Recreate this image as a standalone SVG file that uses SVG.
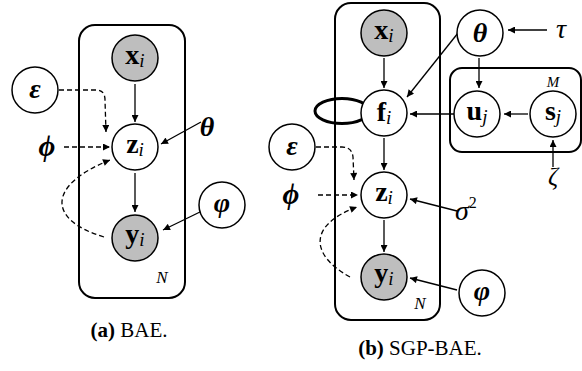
<svg xmlns="http://www.w3.org/2000/svg" width="582" height="371" viewBox="0 0 582 371">
  <defs>
    <marker id="ah" viewBox="0 0 10 10" refX="10" refY="5" markerWidth="8" markerHeight="7" markerUnits="userSpaceOnUse" orient="auto">
      <path d="M0,0 L10,5 L0,10 z" fill="#000"/>
    </marker>
    <style>
      .plate { fill: none; stroke: #000; stroke-width: 2; }
      .node { fill: #fff; stroke: #000; stroke-width: 1.5; }
      .obs { fill: #bebebe; stroke: #000; stroke-width: 1.5; }
      .edge { fill: none; stroke: #000; stroke-width: 1.3; marker-end: url(#ah); }
      .dash { fill: none; stroke: #000; stroke-width: 1.3; stroke-dasharray: 5 3; marker-end: url(#ah); }
      text { font-family: "Liberation Serif", "DejaVu Serif", serif; fill: #000; }
      .lbl { font-size: 28px; text-anchor: middle; }
      .vec { font-weight: bold; }
      .sub { font-style: italic; font-size: 19px; }
      .greek { font-style: italic; font-weight: bold; text-anchor: middle; }
      .plain { font-style: italic; text-anchor: middle; }
      .cap { font-size: 21px; text-anchor: middle; }
    </style>
  </defs>

  <!-- ===== (a) BAE ===== -->
  <g id="plate-a">
    <rect class="plate" x="79" y="25" width="106" height="273" rx="16"/>
    <text class="plain" x="162" y="283" font-size="17">N</text>
  </g>

  <g id="edges-a">
    <line class="edge" x1="135" y1="84" x2="135" y2="122"/>
    <line class="edge" x1="135" y1="173" x2="135" y2="212"/>
    <line class="edge" x1="201" y1="122" x2="161" y2="144"/>
    <line class="edge" x1="202" y1="211" x2="163" y2="230"/>
    <path class="dash" d="M59,90 L96,90 Q105,90 105,100 L106,132"/>
    <line class="dash" x1="64" y1="147" x2="110" y2="147"/>
    <path class="dash" d="M104,237 C47,220 47,185 110,160"/>
  </g>

  <g id="a-x">
    <circle class="obs" cx="135" cy="58" r="23"/>
    <text class="lbl" x="135" y="64"><tspan class="vec">x</tspan><tspan class="sub" dy="3">i</tspan></text>
  </g>
  <g id="a-z">
    <circle class="node" cx="135" cy="147" r="23"/>
    <text class="lbl" x="135" y="153"><tspan class="vec">z</tspan><tspan class="sub" dy="3">i</tspan></text>
  </g>
  <g id="a-y">
    <circle class="obs" cx="135" cy="238" r="23"/>
    <text class="lbl" x="135" y="243"><tspan class="vec">y</tspan><tspan class="sub" dy="3">i</tspan></text>
  </g>
  <g id="a-eps">
    <circle class="node" cx="35" cy="90" r="23"/>
    <text class="greek" x="35" y="98" font-size="28">ε</text>
  </g>
  <g id="a-phi">
    <text class="greek" x="47" y="156" font-size="29">ϕ</text>
  </g>
  <g id="a-theta">
    <text class="greek" x="207" y="136" font-size="28">θ</text>
  </g>
  <g id="a-varphi">
    <circle class="node" cx="222" cy="205" r="23"/>
    <text class="greek" x="222" y="212" font-size="28">φ</text>
  </g>

  <text class="cap" x="129" y="337"><tspan font-weight="bold">(a)</tspan> BAE.</text>

  <!-- ===== (b) SGP-BAE ===== -->
  <g id="plate-b">
    <rect class="plate" x="335" y="3" width="105" height="317" rx="16"/>
    <text class="plain" x="420" y="309" font-size="17">N</text>
  </g>
  <g id="plate-m">
    <rect class="plate" x="450" y="68" width="131" height="84" rx="12"/>
    <text class="plain" x="553" y="87" font-size="15">M</text>
  </g>

  <g id="edges-b">
    <line class="edge" x1="384" y1="58" x2="384" y2="88"/>
    <line class="edge" x1="384" y1="138" x2="384" y2="170"/>
    <line class="edge" x1="384" y1="220" x2="384" y2="252"/>
    <line class="edge" x1="458" y1="33" x2="407" y2="97"/>
    <line class="edge" x1="479" y1="58" x2="479" y2="88"/>
    <line class="edge" x1="547" y1="30" x2="508" y2="30"/>
    <line class="edge" x1="454" y1="114" x2="410" y2="114"/>
    <line class="edge" x1="528" y1="114" x2="504" y2="114"/>
    <line class="edge" x1="553" y1="167" x2="553" y2="140"/>
    <line class="edge" x1="457" y1="211" x2="410" y2="199"/>
    <line class="edge" x1="457" y1="290" x2="410" y2="278"/>
    <path class="dash" d="M316,147 L342,147 Q352,147 353,157 L354,180"/>
    <line class="dash" x1="318" y1="195" x2="358" y2="195"/>
    <path class="dash" d="M350,277 C310,255 308,225 357,207"/>
  </g>

  <g id="b-loop">
    <ellipse cx="342" cy="111" rx="27" ry="12.5" fill="none" stroke="#000" stroke-width="3"/>
  </g>

  <g id="b-x">
    <circle class="obs" cx="384" cy="33" r="23"/>
    <text class="lbl" x="384" y="39"><tspan class="vec">x</tspan><tspan class="sub" dy="3">i</tspan></text>
  </g>
  <g id="b-f">
    <circle class="node" cx="384" cy="113" r="23"/>
    <text class="lbl" x="384" y="121"><tspan class="vec">f</tspan><tspan class="sub" dy="3">i</tspan></text>
  </g>
  <g id="b-z">
    <circle class="node" cx="384" cy="195" r="23"/>
    <text class="lbl" x="384" y="201"><tspan class="vec">z</tspan><tspan class="sub" dy="3">i</tspan></text>
  </g>
  <g id="b-y">
    <circle class="obs" cx="384" cy="277" r="23"/>
    <text class="lbl" x="384" y="282"><tspan class="vec">y</tspan><tspan class="sub" dy="3">i</tspan></text>
  </g>
  <g id="b-theta">
    <circle class="node" cx="480" cy="33" r="23"/>
    <text class="greek" x="480" y="42" font-size="28">θ</text>
  </g>
  <g id="b-tau">
    <text class="plain" x="561" y="38" font-size="28">τ</text>
  </g>
  <g id="b-u">
    <circle class="node" cx="477" cy="114" r="23"/>
    <text class="lbl" x="477" y="120"><tspan class="vec">u</tspan><tspan class="sub" dy="3">j</tspan></text>
  </g>
  <g id="b-s">
    <circle class="node" cx="553" cy="114" r="23"/>
    <text class="lbl" x="553" y="120"><tspan class="vec">s</tspan><tspan class="sub" dy="3">j</tspan></text>
  </g>
  <g id="b-zeta">
    <text class="plain" x="553" y="185" font-size="25">ζ</text>
  </g>
  <g id="b-eps">
    <circle class="node" cx="292" cy="147" r="23"/>
    <text class="greek" x="292" y="155" font-size="28">ε</text>
  </g>
  <g id="b-phi">
    <text class="greek" x="291" y="204" font-size="29">ϕ</text>
  </g>
  <g id="b-sigma">
    <text x="455" y="220" font-size="28" font-style="italic">σ<tspan font-size="16" font-style="normal" dy="-12">2</tspan></text>
  </g>
  <g id="b-varphi">
    <circle class="node" cx="482" cy="293" r="23"/>
    <text class="greek" x="482" y="300" font-size="28">φ</text>
  </g>

  <text class="cap" x="420" y="355"><tspan font-weight="bold">(b)</tspan> SGP-BAE.</text>
</svg>
